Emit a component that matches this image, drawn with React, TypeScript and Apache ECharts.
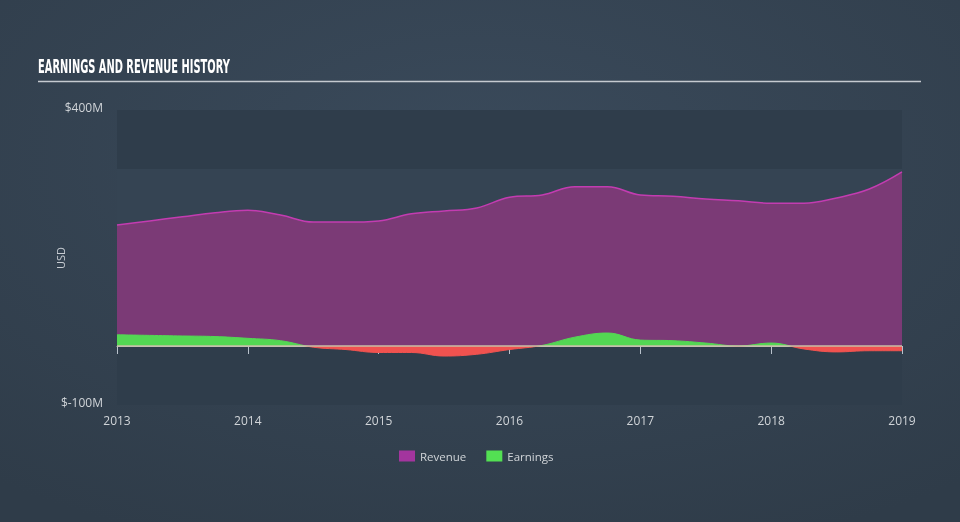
import React, { useEffect, useRef } from "react";
import * as echarts from "echarts";

const yearTicks = [2013, 2014, 2015, 2016, 2017, 2018, 2019];
const quarters = [
  2013, 2013.25, 2013.5, 2013.75, 2014, 2014.25, 2014.5, 2014.75, 2015, 2015.25, 2015.5, 2015.75,
  2016, 2016.25, 2016.5, 2016.75, 2017, 2017.25, 2017.5, 2017.75, 2018, 2018.25, 2018.5, 2018.75, 2019,
];
const revenue = [
  205, 212, 219, 226, 230, 222, 210, 210, 212, 224, 229, 234,
  252, 256, 270, 270, 256, 254, 249, 246, 242, 242, 251, 266, 295,
];
const earnings = [
  19, 18, 17, 16, 13, 9, -2, -6, -11, -11, -17, -14,
  -6, 1, 15, 22, 10, 9, 5, 0, 5, -5, -10, -8, -8,
];
const zeroLine = [0, 0];
const yMin = -100;
const yMax = 400;

const GRID_TOP = 110;
const GRID_BOTTOM_Y = 405;

export default function App() {
  const ref = useRef<HTMLDivElement>(null);
  useEffect(() => {
    if (!ref.current) return;
    const chart = echarts.init(ref.current, undefined, { renderer: "svg" });
    const font = "'Open Sans', Lato, sans-serif";
    const zeroOff = yMax / (yMax - yMin);
    const signGradient = (pos: string, neg: string) => ({
      type: "linear",
      x: 0,
      y: GRID_TOP,
      x2: 0,
      y2: GRID_BOTTOM_Y,
      global: true,
      colorStops: [
        { offset: 0, color: pos },
        { offset: zeroOff, color: pos },
        { offset: zeroOff, color: neg },
        { offset: 1, color: neg },
      ],
    });
    chart.setOption({
      animation: false,
      backgroundColor: {
        type: "radial",
        x: 0.5,
        y: 0.3,
        r: 0.8,
        colorStops: [
          { offset: 0, color: "#3a4a5b" },
          { offset: 1, color: "#2f3c49" },
        ],
      },
      graphic: [
        {
          type: "text",
          x: 38,
          y: 67,
          scaleX: 0.52,
          style: {
            text: "EARNINGS AND REVENUE HISTORY",
            fill: "#ffffff",
            font: "bold 19px 'DejaVu Sans', sans-serif",
            align: "left",
            verticalAlign: "middle",
          },
        },
        {
          type: "line",
          shape: { x1: 38, y1: 81.5, x2: 921, y2: 81.5 },
          style: { stroke: "#c5cad0", lineWidth: 1.5 },
        },
        {
          type: "text",
          x: 60,
          y: 258,
          rotation: Math.PI / 2,
          style: {
            text: "USD",
            fill: "#c8cdd3",
            font: `11px ${font}`,
            align: "center",
            verticalAlign: "middle",
          },
        },
      ],
      legend: {
        left: 394,
        top: 445,
        itemWidth: 16,
        itemHeight: 11,
        itemGap: 20,
        icon: "rect",
        textStyle: { color: "#d0d4d8", fontFamily: font, fontSize: 11.5 },
        data: [
          { name: "Revenue", itemStyle: { color: "#a3359e" } },
          { name: "Earnings", itemStyle: { color: "#53e053" } },
        ],
      },
      grid: { left: 117, right: 58, top: GRID_TOP, bottom: 522 - GRID_BOTTOM_Y, containLabel: false },
      xAxis: {
        type: "value",
        min: 2013,
        max: 2019,
        interval: 1,
        offset: 1,
        axisLine: { show: true, lineStyle: { color: "#b9c2cc", width: 1 } },
        axisTick: { show: true, length: 8, lineStyle: { color: "#b9c2cc" } },
        splitLine: { show: false },
        axisLabel: {
          color: "#d0d4d8",
          fontFamily: font,
          fontSize: 12,
          margin: 8,
          formatter: (v: number) => (yearTicks.includes(v) ? String(v) : ""),
        },
      },
      yAxis: {
        type: "value",
        min: yMin,
        max: yMax,
        interval: 100,
        axisLine: { show: false },
        axisTick: { show: false },
        splitLine: { show: false },
        splitArea: { show: true, areaStyle: { color: ["#2f3d4b", "#354453"] } },
        axisLabel: {
          color: "#d0d4d8",
          fontFamily: font,
          fontSize: 12,
          margin: 14,
          verticalAlign: "bottom",
          lineHeight: 6,
          formatter: (v: number) => (v === yMax || v === yMin ? `$${v}M` : ""),
        },
      },
      series: [
        {
          name: "Revenue",
          type: "line",
          smooth: 0.4,
          symbol: "none",
          data: quarters.map((q, i) => [q, revenue[i]]),
          lineStyle: { color: "#c33cb1", width: 1.5 },
          itemStyle: { color: "#a3359e" },
          areaStyle: { color: "#7b3a76", opacity: 1 },
          z: 2,
        },
        {
          name: "Earnings",
          type: "line",
          smooth: 0.4,
          symbol: "none",
          data: quarters.map((q, i) => [q, earnings[i]]),
          lineStyle: { width: 1, color: signGradient("#53d753", "#f0524f") },
          itemStyle: { color: "#53e053" },
          areaStyle: { opacity: 1, color: signGradient("#53d753", "#f0524f") },
          z: 3,
        },
        {
          name: "zero",
          type: "line",
          symbol: "none",
          silent: true,
          data: [
            [yearTicks[0], zeroLine[0]],
            [yearTicks[yearTicks.length - 1], zeroLine[1]],
          ],
          lineStyle: { color: "#c9bfa6", width: 1.5 },
          itemStyle: { color: "#c9bfa6" },
          z: 4,
        },
      ],
    });
    return () => chart.dispose();
  }, []);
  return (
    <div
      ref={ref}
      style={{ position: "fixed", left: 0, top: 0, width: 960, height: 522 }}
    />
  );
}
